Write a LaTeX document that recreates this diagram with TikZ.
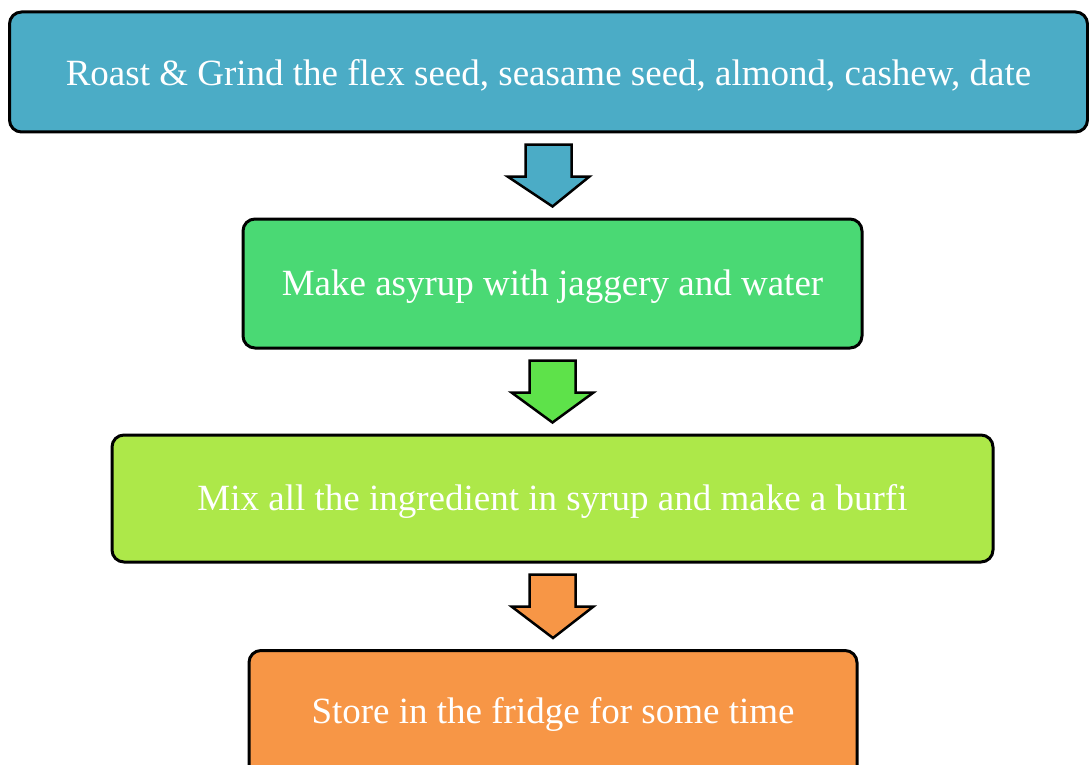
\documentclass[tikz,border=0pt]{standalone}
\usepackage{fontspec}
\setmainfont{Liberation Serif}
\usetikzlibrary{calc}
\definecolor{cblue}{HTML}{4BACC6}
\definecolor{cgreen}{HTML}{4AD974}
\definecolor{cgreenarrow}{HTML}{5EE24A}
\definecolor{clime}{HTML}{ADE849}
\definecolor{corange}{HTML}{F79646}
\tikzset{
  stepbox/.style={draw=black, line width=3pt, rounded corners=12pt, text=white,
    font=\fontsize{37}{44}\selectfont, inner sep=0pt},
  blockarrow/.style={draw=black, line width=2.5pt, line join=miter},
}
\newcommand{\lowtext}[1]{\raisebox{-3pt}[\height][\depth]{#1}}
\begin{document}
\begin{tikzpicture}[x=1pt,y=-1pt]
\clip (0,0) rectangle (1089,765);
\useasboundingbox (0,0) rectangle (1089,765);
\node[stepbox, fill=cblue, minimum width=1078pt, minimum height=120pt] (b1) at (548.5,72) {\lowtext{Roast \& Grind the flex seed, seasame seed, almond, cashew, date}};
\node[stepbox, fill=cgreen, minimum width=619pt, minimum height=129pt] (b2) at (552.5,283.5) {\lowtext{Make asyrup with jaggery and water}};
\node[stepbox, fill=clime, minimum width=881pt, minimum height=127pt] (b3) at (552.5,498.5) {\lowtext{Mix all the ingredient in syrup and make a burfi}};
\node[stepbox, fill=corange, minimum width=608pt, minimum height=140pt, anchor=north] (b4) at (553,649) {};
\node[text=white, font=\fontsize{37}{44}\selectfont] (t4) at (553,714) {Store in the fridge for some time};
% block arrows
\foreach \a/\b/\c in {b1/b2/cblue, b2/b3/cgreenarrow, b3/b4/corange}{
  \coordinate (top) at ($(\a.south)+(0,11)$);
  \coordinate (tip) at ($(\b.north)+(0,-11)$);
  \filldraw[blockarrow, fill=\c]
    ($(top)+(-23,0)$) -- ($(top)+(23,0)$) -- ($(top)+(23,32)$) -- ($(top)+(41,32)$)
    -- (tip) -- ($(top)+(-41,32)$) -- ($(top)+(-23,32)$) -- cycle;
}
\end{tikzpicture}
\end{document}
